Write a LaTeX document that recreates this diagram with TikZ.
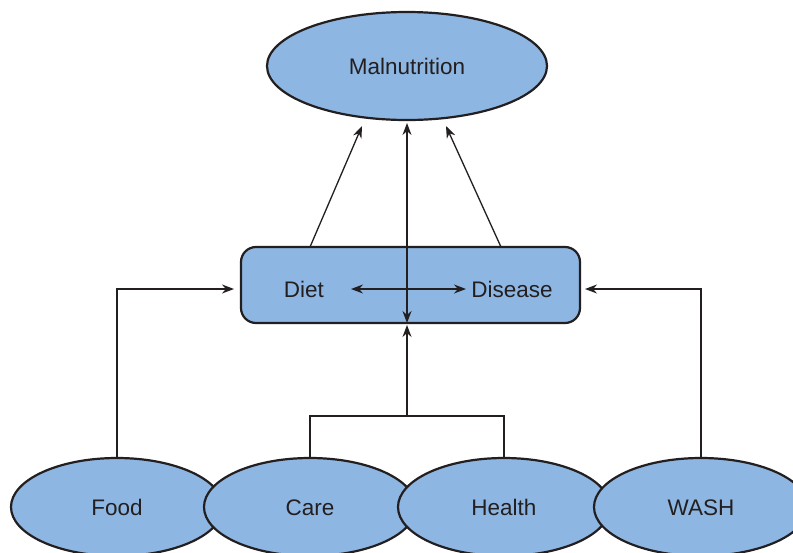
\documentclass[tikz,border=0pt]{standalone}
\usepackage{fontspec}
\setmainfont{Liberation Sans}
\usetikzlibrary{shapes.geometric,arrows.meta}
\definecolor{fillblue}{RGB}{141,182,226}
\definecolor{ink}{RGB}{35,31,32}
\tikzset{
  oval/.style={ellipse, draw=ink, line width=2.2pt, fill=fillblue, inner sep=0pt, text=ink, font=\fontsize{22.5}{26}\selectfont, text height=16pt, text depth=0pt},
  lbl/.style={text=ink, font=\fontsize{22.5}{26}\selectfont, inner sep=0pt, text height=16pt, text depth=0pt},
  conn/.style={draw=ink, line width=1.3pt},
  arr/.style={conn, -{Stealth[length=12pt,width=9pt]}},
  darr/.style={conn, {Stealth[length=12pt,width=9pt]}-{Stealth[length=12pt,width=9pt]}}
}
\begin{document}
\begin{tikzpicture}[x=1pt,y=-1pt]
\useasboundingbox (0,0) rectangle (793,552);
\clip (0,0) rectangle (793,552);
\fill[white] (0,0) rectangle (793,552);

% top ellipse
\node[oval, minimum width=280pt, minimum height=108pt] (mal) at (407,66) {Malnutrition};

% middle rounded box
\node[draw=ink, line width=2.2pt, fill=fillblue, rounded corners=15pt, minimum width=339pt, minimum height=76pt, inner sep=0pt] (box) at (410.5,285) {};
\node[lbl] (diet) at (304,289) {Diet};
\node[lbl] (dis) at (512,289) {Disease};

% bottom ellipses (later ones drawn over earlier)
\node[oval, minimum width=212pt, minimum height=98pt] (food) at (117,507) {Food};
\node[oval, minimum width=212pt, minimum height=98pt] (care) at (310,507) {Care};
\node[oval, minimum width=212pt, minimum height=98pt] (health) at (504,507) {Health};
\node[oval, minimum width=214pt, minimum height=98pt] (wash) at (701,507) {WASH};

% coordinates
\coordinate (bl) at (310,247);
\coordinate (tl) at (362,126);
\coordinate (br) at (501,247);
\coordinate (tr) at (446,126);
\coordinate (tm) at (407,123);
\coordinate (bm) at (407,323);
\coordinate (bm2) at (407,325);
\coordinate (join) at (407,416);
\coordinate (dl) at (351,289);
\coordinate (dr) at (466,289);
\coordinate (inl) at (234,289);
\coordinate (inr) at (585,289);

% connectors
\draw[arr] (bl) -- (tl);
\draw[arr] (br) -- (tr);
\draw[darr] (bm) -- (tm);
\draw[darr] (dl) -- (dr);
\draw[arr] (join) -- (bm2);
\draw[conn] (care.north) |- (join) -| (health.north);
\draw[arr] (food.north) |- (inl);
\draw[arr] (wash.north) |- (inr);
\end{tikzpicture}
\end{document}
